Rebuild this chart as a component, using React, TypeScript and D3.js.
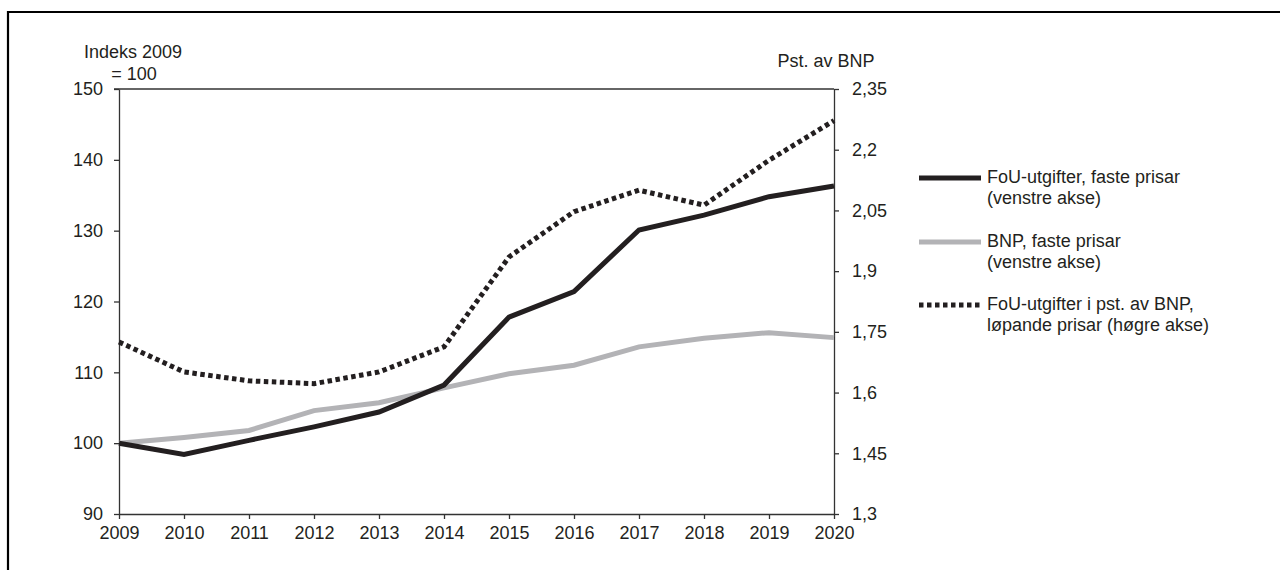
import React, { useEffect, useRef } from 'react';
import * as d3 from 'd3';

const years = [2009, 2010, 2011, 2012, 2013, 2014, 2015, 2016, 2017, 2018, 2019, 2020];
const fouFaste = [100, 98.4, 100.4, 102.3, 104.4, 108.2, 117.8, 121.4, 130.1, 132.2, 134.8, 136.3];
const bnpFaste = [100, 100.8, 101.8, 104.6, 105.7, 107.8, 109.8, 111.0, 113.6, 114.8, 115.6, 114.9];
const fouPstBnp = [1.725, 1.651, 1.629, 1.622, 1.651, 1.713, 1.935, 2.047, 2.10, 2.063, 2.174, 2.272];
const leftTicks = [90, 100, 110, 120, 130, 140, 150];
const rightTicks = [1.3, 1.45, 1.6, 1.75, 1.9, 2.05, 2.2, 2.35];
const legendLines = [
  ['FoU-utgifter, faste prisar', '(venstre akse)'],
  ['BNP, faste prisar', '(venstre akse)'],
  ['FoU-utgifter i pst. av BNP,', 'løpande prisar (høgre akse)'],
];

const FONT = '"Liberation Sans", Arial, sans-serif';
const INK = '#231f20';
const GREY = '#b3b3b6';

export default function App() {
  const svgRef = useRef<SVGSVGElement>(null);

  useEffect(() => {
    if (!svgRef.current) return;
    const width = 1280;
    const height = 570;
    const left = 119, right = 834, top = 89, bottom = 514;

    const svg = d3.select(svgRef.current);
    svg.selectAll('*').remove();
    svg.attr('width', width).attr('height', height);

    // outer frame (only top and left edges are visible)
    svg.append('path')
      .attr('d', `M8,${height + 5}V12H${width + 5}`)
      .attr('fill', 'none')
      .attr('stroke', '#000')
      .attr('stroke-width', 2.2);

    const x = d3.scaleLinear().domain([2009, 2020]).range([left, right]);
    const yL = d3.scaleLinear().domain([90, 150]).range([bottom, top]);
    const yR = d3.scaleLinear().domain([1.3, 2.35]).range([bottom, top]);

    const fmt = (d: number) => String(d).replace('.', ',');

    const xAxis = svg.append('g')
      .attr('transform', `translate(0,${bottom})`)
      .call(d3.axisBottom(x).tickValues(years).tickFormat(d => String(d)).tickSize(5).tickSizeOuter(0));
    const lAxis = svg.append('g')
      .attr('transform', `translate(${left},0)`)
      .call(d3.axisLeft(yL).tickValues(leftTicks).tickSize(5).tickSizeOuter(0).tickPadding(11));
    const rAxis = svg.append('g')
      .attr('transform', `translate(${right},0)`)
      .call(d3.axisRight(yR).tickValues(rightTicks).tickFormat(d => fmt(d as number)).tickSize(5).tickSizeOuter(0).tickPadding(13));

    [xAxis, lAxis, rAxis].forEach(a => {
      a.select('.domain').attr('stroke', '#333').attr('stroke-width', 1.3);
      a.selectAll('.tick line').attr('stroke', '#333').attr('stroke-width', 1.3);
      a.selectAll('.tick text').attr('fill', INK).style('font-family', FONT).style('font-size', '18px');
    });
    xAxis.selectAll('.tick text').attr('dy', '0.85em').attr('y', 10);

    // top frame line of plot
    svg.append('line')
      .attr('x1', left - 5).attr('x2', right)
      .attr('y1', top).attr('y2', top)
      .attr('stroke', '#333').attr('stroke-width', 1.3);

    const lineL = d3.line<number>().x((_, i) => x(years[i])).y(d => yL(d));
    const lineR = d3.line<number>().x((_, i) => x(years[i])).y(d => yR(d));

    svg.append('path').attr('d', lineR(fouPstBnp)!)
      .attr('fill', 'none').attr('stroke', INK).attr('stroke-width', 5)
      .attr('stroke-dasharray', '4.5,3.5');
    svg.append('path').attr('d', lineL(bnpFaste)!)
      .attr('fill', 'none').attr('stroke', GREY).attr('stroke-width', 5);
    svg.append('path').attr('d', lineL(fouFaste)!)
      .attr('fill', 'none').attr('stroke', INK).attr('stroke-width', 5);

    const txt = (tx: number, ty: number, s: string, anchor = 'start') =>
      svg.append('text')
        .attr('x', tx).attr('y', ty)
        .attr('dy', '0.35em')
        .attr('text-anchor', anchor)
        .attr('fill', INK)
        .style('font-family', FONT)
        .style('font-size', '18px')
        .text(s);

    txt(133, 52, 'Indeks 2009', 'middle');
    txt(134, 74, '= 100', 'middle');
    txt(826, 61, 'Pst. av BNP', 'middle');

    const legendY = [178, 242, 305];
    const legendStyles = [
      { stroke: INK, dash: null as string | null },
      { stroke: GREY, dash: null as string | null },
      { stroke: INK, dash: '4.5,3.5' },
    ];
    legendLines.forEach((lines, i) => {
      const ly = legendY[i];
      const st = legendStyles[i];
      const l = svg.append('line')
        .attr('x1', 919).attr('x2', 981)
        .attr('y1', ly).attr('y2', ly)
        .attr('stroke', st.stroke).attr('stroke-width', 5);
      if (st.dash) l.attr('stroke-dasharray', st.dash);
      lines.forEach((s, j) => txt(987, ly - 1 + j * 20.5, s));
    });
  }, []);

  return <svg ref={svgRef} style={{ position: 'absolute', left: 0, top: 0 }}></svg>;
}
